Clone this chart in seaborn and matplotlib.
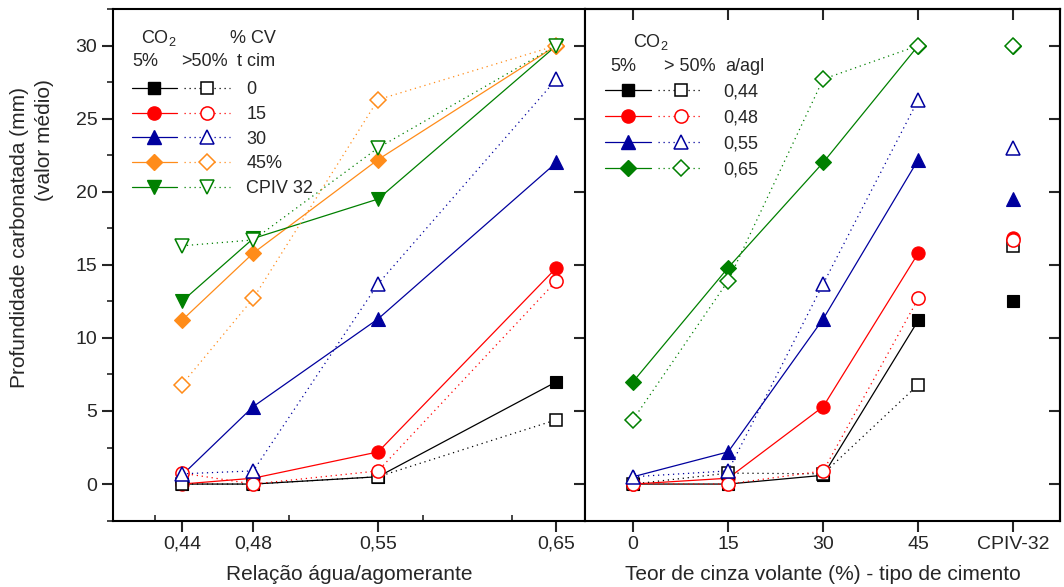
import numpy as np
import pandas as pd
import seaborn as sns
import matplotlib
matplotlib.use("Agg")
import matplotlib.pyplot as plt
from matplotlib import font_manager
from matplotlib.lines import Line2D
from matplotlib.legend_handler import HandlerTuple
from matplotlib.ticker import MultipleLocator, FixedLocator

# ---------------- data ----------------
wb_ratios = [0.44, 0.48, 0.55, 0.65]              # relação água/aglomerante
wb_labels = ["0,44", "0,48", "0,55", "0,65"]
cv_labels = ["0", "15", "30", "45", "CPIV-32"]     # teor de cinza volante / cimento
cv_legend = ["0", "15", "30", "45%", "CPIV 32"]

# CO2 5% (filled markers): one list per cement series, values at each a/agl
co2_5_cv0 = [0.0, 0.0, 0.5, 7.0]
co2_5_cv15 = [0.0, 0.4, 2.2, 14.8]
co2_5_cv30 = [0.6, 5.3, 11.3, 22.0]
co2_5_cv45 = [11.2, 15.8, 22.2, 30.0]
co2_5_cpiv = [12.5, 16.8, 19.5, 30.0]

# CO2 > 50% (open markers)
co2_50_cv0 = [0.0, 0.0, 0.5, 4.4]
co2_50_cv15 = [0.75, 0.0, 0.9, 13.9]
co2_50_cv30 = [0.7, 0.9, 13.7, 27.7]
co2_50_cv45 = [6.8, 12.7, 26.3, 30.0]
co2_50_cpiv = [16.3, 16.7, 23.0, 30.0]

# ---------------- style ----------------
sns.set_theme(style="ticks")
avail = {f.name for f in font_manager.fontManager.ttflist}
base_font = "Liberation Sans" if "Liberation Sans" in avail else "DejaVu Sans"
narrow_font = "Liberation Sans Narrow" if "Liberation Sans Narrow" in avail else base_font
plt.rcParams["font.family"] = [base_font, "DejaVu Sans"]
plt.rcParams["mathtext.fontset"] = "custom"
plt.rcParams["mathtext.rm"] = base_font
plt.rcParams["axes.linewidth"] = 1.5

BLACK, RED, BLUE, ORANGE, GREEN = "#000000", "#FF0000", "#00009E", "#FF8C1A", "#008000"
cv_colors = [BLACK, RED, BLUE, ORANGE, GREEN]
cv_markers_left = ["s", "o", "^", "D", "v"]
wb_colors = [BLACK, RED, BLUE, GREEN]
wb_markers = ["s", "o", "^", "D"]
msize = {"s": 8.0, "o": 9.5, "^": 9.5, "v": 9.5, "D": 8.0}
DOT = (0, (1, 3))

filled = [co2_5_cv0, co2_5_cv15, co2_5_cv30, co2_5_cv45, co2_5_cpiv]
opened = [co2_50_cv0, co2_50_cv15, co2_50_cv30, co2_50_cv45, co2_50_cpiv]

fig = plt.figure(figsize=(10.64, 5.87), dpi=100)
W, H = 1064, 587
bot, top = 520.6, 9.0
ax1 = fig.add_axes([112.7 / W, (H - bot) / H, 472.3 / W, (bot - top) / H])
ax2 = fig.add_axes([585.0 / W, (H - bot) / H, 475.0 / W, (bot - top) / H])


def draw(ax, x, y, color, marker, open_, ls):
    df = pd.DataFrame({"x": x, "y": y})
    kw = dict(color=color, marker=marker, markersize=msize[marker], linewidth=0.9,
              markeredgecolor=color, markeredgewidth=1.1 if open_ else 0.8,
              markerfacecolor="white" if open_ else color)
    sns.lineplot(data=df, x="x", y="y", ax=ax, sort=False, linestyle=ls,
                 estimator=None, legend=False, zorder=4 if open_ else 3, **kw)


# ---------------- left panel ----------------
for vals, c, m in zip(filled, cv_colors, cv_markers_left):
    draw(ax1, wb_ratios, vals, c, m, False, "-")
for vals, c, m in zip(opened, cv_colors, cv_markers_left):
    draw(ax1, wb_ratios, vals, c, m, True, DOT)

# ---------------- right panel ----------------
cv_pos = np.arange(len(cv_labels))
for j, (c, m) in enumerate(zip(wb_colors, wb_markers)):
    f_vals = [s[j] for s in filled]
    draw(ax2, cv_pos[:4], f_vals[:4], c, m, False, "-")
    draw(ax2, cv_pos[4:], f_vals[4:], c, m, False, "none")
for j, (c, m) in enumerate(zip(wb_colors, wb_markers)):
    o_vals = [s[j] for s in opened]
    draw(ax2, cv_pos[:4], o_vals[:4], c, m, True, DOT)
    draw(ax2, cv_pos[4:], o_vals[4:], c, m, True, "none")

# ---------------- axes ----------------
for ax in (ax1, ax2):
    ax.set_ylim(-2.5, 32.5)
    for s in ax.spines.values():
        s.set_visible(True)
        s.set_linewidth(1.5)
        s.set_color("black")

ax1.set_xlim(0.4012, 0.666)
ax1.set_xticks(wb_ratios)
ax1.set_xticklabels(wb_labels)
ax1.xaxis.set_minor_locator(FixedLocator([0.425, 0.50, 0.575, 0.625]))
ax1.tick_params(axis="x", which="major", direction="out", length=8, width=1.5, pad=3,
                labelsize=14, bottom=True, top=False)
ax1.tick_params(axis="x", which="minor", direction="in", length=4, width=1.2, bottom=True, top=False)
ax1.set_yticks(np.arange(0, 31, 5))
ax1.yaxis.set_minor_locator(MultipleLocator(2.5))
ax1.tick_params(axis="y", which="major", direction="out", length=8, width=1.5, pad=3,
                labelsize=14, left=True, right=False)
ax1.tick_params(axis="y", which="minor", direction="out", length=4, width=1.2, left=True, right=False)
for lab in ax1.get_xticklabels() + ax1.get_yticklabels():
    lab.set_fontfamily(narrow_font)

ax2.set_xlim(-0.505, 4.49)
ax2.set_xticks(cv_pos)
ax2.set_xticklabels(cv_labels)
ax2.tick_params(axis="x", which="major", direction="out", length=8, width=1.5, pad=3,
                labelsize=14, bottom=True, top=False)
ax2.set_yticks(np.arange(0, 31, 5))
ax2.tick_params(axis="y", which="major", direction="out", length=8, width=1.5,
                left=True, right=False, labelleft=False)
for lab in ax2.get_xticklabels():
    lab.set_fontfamily(narrow_font)
sec_top = ax2.secondary_xaxis("top")
sec_top.set_xticks(cv_pos)
sec_top.tick_params(direction="in", length=8, width=1.5, labeltop=False)
sec_right = ax2.secondary_yaxis("right")
sec_right.set_yticks(np.arange(0, 31, 5))
sec_right.tick_params(direction="in", length=8, width=1.5, labelright=False)

ax1.set_xlabel("Relação água/agomerante", fontsize=15, fontfamily=narrow_font, labelpad=9)
ax2.set_xlabel("Teor de cinza volante (%) - tipo de cimento", fontsize=15,
               fontfamily=narrow_font, labelpad=9)
ax1.set_ylabel("")
ax2.set_ylabel("")
fig.text(20 / W, 1 - 238 / H, "Profundidade carbonatada (mm)", rotation=90,
         ha="center", va="center", fontsize=15, fontfamily=narrow_font)
fig.text(44 / W, 1 - 140 / H, "(valor médio)", rotation=90,
         ha="center", va="center", fontsize=15, fontfamily=narrow_font)

# ---------------- legends ----------------
LFS = 13


def handles(colors, markers):
    hs = []
    for c, m in zip(colors, markers):
        hf = Line2D([], [], color=c, marker=m, markersize=msize[m], linewidth=0.9,
                    markerfacecolor=c, markeredgecolor=c)
        ho = Line2D([], [], color=c, marker=m, markersize=msize[m], linewidth=0.9,
                    linestyle=DOT, markerfacecolor="white", markeredgecolor=c,
                    markeredgewidth=1.1)
        hs.append((hf, ho))
    return hs


leg1 = ax1.legend(handles(cv_colors, cv_markers_left), cv_legend, loc="upper left",
                  bbox_to_anchor=(0.040, 0.859), frameon=False, fontsize=LFS,
                  handler_map={tuple: HandlerTuple(ndivide=2, pad=0.39)},
                  handlelength=5.45, handletextpad=0.9, labelspacing=0.43,
                  borderpad=0, borderaxespad=0)
leg2 = ax2.legend(handles(wb_colors, wb_markers), wb_labels, loc="upper left",
                  bbox_to_anchor=(0.042, 0.855), frameon=False, fontsize=LFS,
                  handler_map={tuple: HandlerTuple(ndivide=2, pad=0.39)},
                  handlelength=5.45, handletextpad=1.1, labelspacing=0.5,
                  borderpad=0, borderaxespad=0)

hdr = dict(ha="center", va="center", fontsize=LFS)
ax1.text(0.098, 0.943, r"CO$_\mathregular{2}$", transform=ax1.transAxes, **hdr)
ax1.text(0.297, 0.943, "% CV", transform=ax1.transAxes, **hdr)
ax1.text(0.068, 0.898, "5%", transform=ax1.transAxes, **hdr)
ax1.text(0.195, 0.898, ">50%", transform=ax1.transAxes, **hdr)
ax1.text(0.303, 0.898, "t cim", transform=ax1.transAxes, **hdr)

ax2.text(0.139, 0.936, r"CO$_\mathregular{2}$", transform=ax2.transAxes, **hdr)
ax2.text(0.080, 0.888, "5%", transform=ax2.transAxes, **hdr)
ax2.text(0.221, 0.888, "> 50%", transform=ax2.transAxes, **hdr)
ax2.text(0.337, 0.888, "a/agl", transform=ax2.transAxes, **hdr)

fig.savefig("out.png", dpi=100)
